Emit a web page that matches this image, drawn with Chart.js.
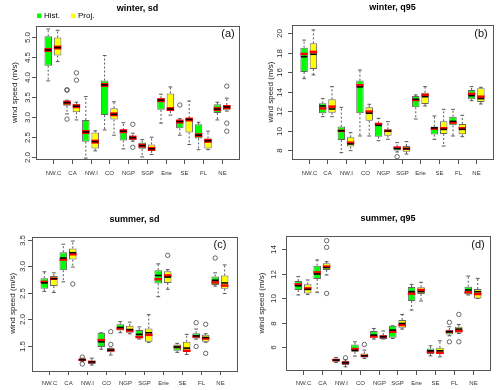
<!DOCTYPE html>
<html><head><meta charset="utf-8">
<script src="https://cdn.jsdelivr.net/npm/chart.js@4.4.1/dist/chart.umd.min.js"></script>
<style>
html,body{margin:0;padding:0;background:#fff;}
#wrap{position:relative;width:500px;height:390px;background:#fff;}
canvas{position:absolute;}
</style></head><body>
<div id="wrap">
<canvas id="c0" width="250" height="195" style="left:0;top:0"></canvas>
<canvas id="c1" width="250" height="195" style="left:250px;top:0"></canvas>
<canvas id="c2" width="250" height="195" style="left:0;top:195px"></canvas>
<canvas id="c3" width="250" height="195" style="left:250px;top:195px"></canvas>
</div>
<script>
const categories = ['NW.C','CA','NW.I','CO','NGP','SGP','Erie','SE','FL','NE'];
const seriesNames = ['Hist.','Proj.'];

// each box: [whiskerLow, q1, median(black), q3, whiskerHigh, redLine]
const winterSdHist = [[3.90,4.28,4.67,5.01,5.19,4.67],[3.08,3.28,3.36,3.40,3.42,3.36],[1.98,2.39,2.63,2.93,3.51,2.63],[2.68,3.05,3.80,3.91,4.53,3.80],[2.21,2.42,2.65,2.68,2.86,2.65],[2.01,2.21,2.29,2.37,2.44,2.29],[2.85,3.18,3.42,3.47,3.57,3.42],[2.55,2.72,2.89,2.93,2.96,2.89],[2.19,2.47,2.55,2.82,2.87,2.55],[2.93,3.10,3.20,3.32,3.37,3.20]];
const winterSdProj = [[4.38,4.53,4.73,4.98,5.16,4.73],[2.93,3.12,3.27,3.33,3.37,3.27],[2.16,2.22,2.39,2.62,2.66,2.39],[2.55,2.94,3.07,3.22,3.38,3.07],[2.40,2.43,2.49,2.52,2.60,2.49],[2.07,2.16,2.21,2.32,2.50,2.21],[3.05,3.15,3.20,3.59,3.75,3.20],[2.32,2.62,2.94,2.98,3.40,2.94],[2.19,2.22,2.41,2.47,2.65,2.41],[3.15,3.17,3.25,3.30,3.47,3.25]];
const winterSdHistOut = [[],[3.67,3.68,2.95],[],[],[],[],[],[3.30],[],[]];
const winterSdProjOut = [[],[4.10,3.92],[],[],[2.82,2.25],[],[],[],[],[3.77,2.85,2.65]];
const winterSdTicks = ['2.0','2.5','3.0','3.5','4.0','4.5','5.0'];

const winterQ95Hist = [[15.35,16.03,17.6,18.53,19.3,17.88],[11.45,11.8,12.55,12.82,13.3,12.3],[7.76,9.06,10.0,10.43,12.41,10.0],[9.47,11.8,14.5,15.15,16.24,14.67],[8.99,9.4,10.56,10.77,11.28,10.7],[7.83,7.97,8.17,8.38,8.79,8.27],[11.21,12.41,13.23,13.57,13.68,13.16],[9.13,9.61,10.3,10.43,11.52,10.22],[9.47,10.56,10.97,11.45,12.2,10.84],[13.09,13.23,13.6,14.19,14.53,13.78]];
const winterQ95Proj = [[15.73,16.34,17.85,18.97,20.34,18.09],[11.45,11.86,12.24,13.23,14.53,12.48],[7.97,8.38,8.65,9.33,9.81,8.79],[9.47,11.04,11.8,12.41,12.72,11.97],[9.13,9.5,9.98,10.15,10.94,10.0],[7.62,7.86,8.17,8.44,8.89,8.17],[12.55,12.75,13.5,13.91,14.53,13.68],[8.44,9.68,10.15,10.97,12.2,10.26],[9.4,9.64,10.15,10.7,11.59,10.26],[12.75,12.96,13.3,14.36,14.46,13.5]];
const winterQ95HistOut = [[],[],[],[],[],[7.35],[],[],[],[]];
const winterQ95ProjOut = [[],[],[],[],[],[],[],[],[],[]];
const winterQ95Ticks = ['8','10','12','14','16','18','20'];

const summerSdHist = [[2.53,2.58,2.69,2.78,2.90,2.71],[2.71,2.93,3.16,3.27,3.42,3.13],[1.21,1.22,1.24,1.26,1.27,1.24],[1.44,1.48,1.58,1.75,1.75,1.61],[1.75,1.79,1.85,1.91,1.96,1.83],[1.63,1.64,1.72,1.80,1.86,1.67],[2.43,2.68,2.83,2.93,3.05,2.76],[1.38,1.41,1.48,1.53,1.55,1.48],[1.63,1.64,1.69,1.74,1.82,1.68],[2.63,2.65,2.74,2.81,2.88,2.70]];
const summerSdProj = [[2.51,2.63,2.77,2.82,2.88,2.77],[2.99,3.13,3.26,3.34,3.48,3.23],[1.14,1.16,1.20,1.22,1.27,1.20],[1.33,1.38,1.42,1.46,1.46,1.42],[1.73,1.75,1.81,1.88,1.95,1.79],[1.57,1.58,1.75,1.83,2.09,1.71],[2.57,2.69,2.80,2.91,2.94,2.83],[1.34,1.39,1.46,1.58,1.72,1.41],[1.57,1.58,1.66,1.71,1.73,1.64],[2.49,2.58,2.69,2.83,3.03,2.64]];
const summerSdHistOut = [[],[],[1.29,1.16],[],[],[],[],[],[1.94,1.49],[3.16]];
const summerSdProjOut = [[],[2.67],[],[1.77,1.53],[],[],[3.21],[],[1.91,1.36],[]];
const summerSdTicks = ['1.5','2.0','2.5','3.0','3.5'];

const summerQ95Hist = [[10.26,10.67,11.02,11.4,11.76,11.13],[10.48,11.57,11.98,12.66,13.13,12.11],[4.74,4.79,4.93,5.07,5.15,4.93],[5.26,5.61,5.72,6.21,6.43,5.83],[6.65,6.76,6.98,7.31,7.52,6.87],[6.7,6.76,7.39,7.74,7.74,7.25],[9.03,9.77,10.53,10.91,11.13,10.37],[5.28,5.42,5.69,5.89,6.1,5.61],[6.92,7.03,7.25,7.39,7.66,7.25],[10.26,10.31,10.67,10.94,11.81,10.48]];
const summerQ95Proj = [[10.31,10.39,10.72,11.13,11.49,10.8],[11.9,12.31,12.5,12.85,12.99,12.58],[4.38,4.52,4.71,4.85,4.95,4.71],[5.07,5.15,5.28,5.48,5.75,5.28],[6.65,6.65,6.84,6.98,7.31,6.84],[7.47,7.58,7.93,8.21,8.67,7.8],[9.77,10.34,10.53,10.89,11.3,10.67],[5.2,5.42,5.69,5.94,6.51,5.53],[7.11,7.2,7.47,7.66,7.85,7.31],[9.98,9.98,10.53,10.75,11.62,10.34]];
const summerQ95HistOut = [[],[],[],[],[],[],[],[],[8.02,6.43],[]];
const summerQ95ProjOut = [[],[14.71,14.16,10.39],[5.12],[6.21],[],[],[],[],[8.67,6.43],[]];
const summerQ95Ticks = ['6','8','10','12','14'];

const FONT = "'Liberation Sans', Arial, Helvetica, sans-serif";
const HIST_COLOR = '#00FF00', PROJ_COLOR = '#FFFF00';

const panels = [
  {id:'c0', hist:winterSdHist, proj:winterSdProj, histOut:winterSdHistOut, projOut:winterSdProjOut, ticks:winterSdTicks,
   title:'winter, sd', tag:'(a)', legend:true, pad:{left:36,top:26,right:11,bottom:36}, yMin:1.958, yMax:5.266,
   tagPos:[228,34], yTitleX:15, tickLabelX:28, redW:4, xLabY:14},
  {id:'c1', hist:winterQ95Hist, proj:winterQ95Proj, histOut:winterQ95HistOut, projOut:winterQ95ProjOut, ticks:winterQ95Ticks,
   title:'winter, q95', tag:'(b)', legend:false, pad:{left:42,top:25,right:7,bottom:36}, yMin:7.11, yMax:20.85,
   tagPos:[231,34], yTitleX:21, tickLabelX:30, redW:2.5, xLabY:14},
  {id:'c2', hist:summerSdHist, proj:summerSdProj, histOut:summerSdHistOut, projOut:summerSdProjOut, ticks:summerSdTicks,
   title:'summer, sd', tag:'(c)', legend:false, pad:{left:32,top:41.5,right:13,bottom:20}, yMin:1.047, yMax:3.566,
   tagPos:[220,50], yTitleX:13, tickLabelX:23, redW:2.5, xLabY:13},
  {id:'c3', hist:summerQ95Hist, proj:summerQ95Proj, histOut:summerQ95HistOut, projOut:summerQ95ProjOut, ticks:summerQ95Ticks,
   title:'summer, q95', tag:'(d)', legend:false, pad:{left:36,top:41,right:10,bottom:20}, yMin:4.12, yMax:15.09,
   tagPos:[228,50], yTitleX:12, tickLabelX:24, redW:2.5, xLabY:13}
];

function boxData(arr, off) { return arr.map((b, i) => ({x: 2*i + off, y: [b[1], b[3]]})); }
function outData(hOut, pOut) {
  const pts = [];
  hOut.forEach((vals, i) => vals.forEach(v => pts.push({x: 2*i + 1, y: v})));
  pOut.forEach((vals, i) => vals.forEach(v => pts.push({x: 2*i + 2, y: v})));
  return pts;
}

function makeChart(p) {
  const boxPlugin = {
    id: 'boxExtras',
    beforeDatasetsDraw(chart) {
      const ctx = chart.ctx, y = chart.scales.y;
      [p.hist, p.proj].forEach((arr, di) => {
        const meta = chart.getDatasetMeta(di);
        arr.forEach((b, i) => {
          const el = meta.data[i]; if (!el) return;
          const cx = el.x, w = el.width;
          const pMin = y.getPixelForValue(b[0]), pQ1 = y.getPixelForValue(b[1]);
          const pQ3 = y.getPixelForValue(b[3]), pMax = y.getPixelForValue(b[4]);
          ctx.save();
          ctx.strokeStyle = '#444'; ctx.lineWidth = 0.9;
          ctx.setLineDash([2, 2]);
          ctx.beginPath();
          ctx.moveTo(cx, pQ3); ctx.lineTo(cx, pMax);
          ctx.moveTo(cx, pQ1); ctx.lineTo(cx, pMin);
          ctx.stroke();
          ctx.setLineDash([]);
          ctx.beginPath();
          ctx.moveTo(cx - w/4, pMax); ctx.lineTo(cx + w/4, pMax);
          ctx.moveTo(cx - w/4, pMin); ctx.lineTo(cx + w/4, pMin);
          ctx.stroke();
          ctx.restore();
        });
      });
    },
    afterDatasetsDraw(chart) {
      const ctx = chart.ctx, y = chart.scales.y, x = chart.scales.x, a = chart.chartArea;
      [p.hist, p.proj].forEach((arr, di) => {
        const meta = chart.getDatasetMeta(di);
        arr.forEach((b, i) => {
          const el = meta.data[i]; if (!el) return;
          const cx = el.x, w = el.width;
          ctx.save();
          ctx.strokeStyle = '#FF0000'; ctx.lineWidth = p.redW;
          const pr = y.getPixelForValue(b[5]);
          ctx.beginPath(); ctx.moveTo(cx - w/2, pr); ctx.lineTo(cx + w/2, pr); ctx.stroke();
          ctx.strokeStyle = '#000'; ctx.lineWidth = 1.6;
          const pm = y.getPixelForValue(b[2]);
          ctx.beginPath(); ctx.moveTo(cx - w/2 + 0.5, pm); ctx.lineTo(cx + w/2 - 0.5, pm); ctx.stroke();
          ctx.restore();
        });
      });
      ctx.save();
      ctx.strokeStyle = '#555'; ctx.lineWidth = 1;
      ctx.strokeRect(Math.round(a.left) + 0.5, Math.round(a.top) + 0.5, Math.round(a.right - a.left), Math.round(a.bottom - a.top));
      ctx.fillStyle = '#333';
      ctx.font = '6px ' + FONT;
      ctx.textAlign = 'center'; ctx.textBaseline = 'middle';
      categories.forEach((c, i) => {
        const px = Math.round(x.getPixelForValue(2*i + 1.5)) + 0.5;
        ctx.beginPath(); ctx.moveTo(px, a.bottom + 1); ctx.lineTo(px, a.bottom + 5); ctx.stroke();
        ctx.fillText(c, px, a.bottom + p.xLabY);
      });
      ctx.font = '8px ' + FONT;
      p.ticks.forEach(t => {
        const py = Math.round(y.getPixelForValue(Number(t))) + 0.5;
        ctx.beginPath(); ctx.moveTo(a.left - 4, py); ctx.lineTo(a.left, py); ctx.stroke();
        ctx.save(); ctx.translate(p.tickLabelX, py); ctx.rotate(-Math.PI/2);
        ctx.fillText(t, 0, 0); ctx.restore();
      });
      ctx.fillStyle = '#222';
      ctx.font = '8px ' + FONT;
      ctx.save(); ctx.translate(p.yTitleX, (a.top + a.bottom) / 2); ctx.rotate(-Math.PI/2);
      ctx.fillText('wind speed (m/s)', 0, 0); ctx.restore();
      ctx.fillStyle = '#000';
      ctx.font = 'bold 9px ' + FONT;
      ctx.fillText(p.title, (a.left + a.right) / 2, a.top - 17);
      ctx.font = '11px ' + FONT;
      ctx.fillStyle = '#111';
      ctx.fillText(p.tag, p.tagPos[0], p.tagPos[1]);
      if (p.legend) {
        ctx.font = '8px ' + FONT;
        ctx.textAlign = 'left';
        ctx.fillStyle = HIST_COLOR; ctx.fillRect(37, 13.5, 4.5, 4.5);
        ctx.fillStyle = '#000'; ctx.fillText(seriesNames[0], 44, 16);
        ctx.fillStyle = PROJ_COLOR; ctx.fillRect(71, 13.5, 4.5, 4.5);
        ctx.fillStyle = '#000'; ctx.fillText(seriesNames[1], 78, 16);
      }
      ctx.restore();
    }
  };

  return new Chart(document.getElementById(p.id), {
    type: 'bar',
    data: {
      datasets: [
        {label: seriesNames[0], data: boxData(p.hist, 1), backgroundColor: HIST_COLOR, borderColor: '#666', borderWidth: 1,
         borderSkipped: false, grouped: false, categoryPercentage: 1, barPercentage: 0.8},
        {label: seriesNames[1], data: boxData(p.proj, 2), backgroundColor: PROJ_COLOR, borderColor: '#666', borderWidth: 1,
         borderSkipped: false, grouped: false, categoryPercentage: 1, barPercentage: 0.8},
        {type: 'scatter', label: 'outliers', data: outData(p.histOut, p.projOut), pointStyle: 'circle', pointRadius: 2.2,
         backgroundColor: 'rgba(0,0,0,0)', borderColor: '#444', borderWidth: 0.8, showLine: false}
      ]
    },
    options: {
      responsive: false, animation: false, devicePixelRatio: 1,
      layout: {padding: p.pad},
      plugins: {legend: {display: false}, tooltip: {enabled: false}, title: {display: false}},
      scales: {
        x: {type: 'linear', min: -0.3, max: 21.3, offset: false, grid: {offset: false}, display: false},
        y: {type: 'linear', min: p.yMin, max: p.yMax, display: false}
      }
    },
    plugins: [boxPlugin]
  });
}
panels.forEach(makeChart);
</script>
</body></html>
